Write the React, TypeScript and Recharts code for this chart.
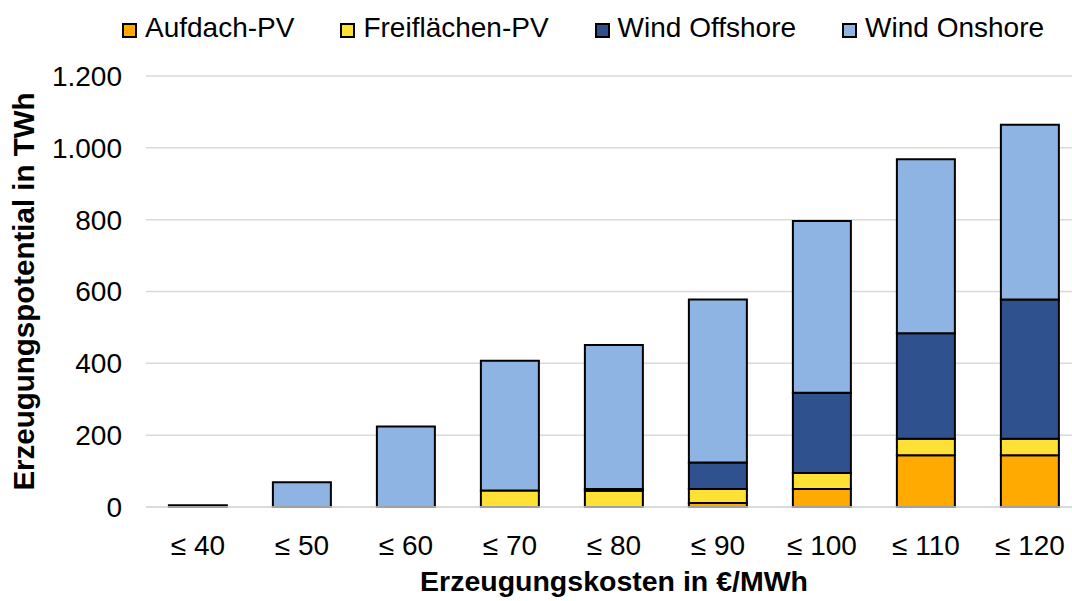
import { BarChart, Bar, XAxis, YAxis, CartesianGrid, Legend, Label } from 'recharts';

// Erzeugungskosten-Klassen (x-Achse)
const CATEGORIES = ['≤ 40', '≤ 50', '≤ 60', '≤ 70', '≤ 80', '≤ 90', '≤ 100', '≤ 110', '≤ 120'];

// Erzeugungspotential in TWh je Technologie
const AUFDACH_PV = [0, 0, 0, 0, 0, 11, 50, 144, 144];
const FREIFLAECHEN_PV = [0, 0, 0, 46, 45, 39, 45, 46, 46];
const WIND_OFFSHORE = [0, 0, 0, 0, 5, 74, 223, 294, 388];
const WIND_ONSHORE = [5, 69, 224, 361, 401, 454, 478, 484, 486];

const Y_TICKS = [0, 200, 400, 600, 800, 1000, 1200];

const SERIES_KEYS = ['aufdach', 'frei', 'offshore', 'onshore'];
const SERIES_NAMES = ['Aufdach-PV', 'Freiflächen-PV', 'Wind Offshore', 'Wind Onshore'];
const COLORS = ['#FFAA00', '#FFE135', '#2F528F', '#8EB4E3'];

const FONT = '"Liberation Sans", Arial, sans-serif';

const chartData = CATEGORIES.map((category, i) => ({
  category,
  aufdach: AUFDACH_PV[i],
  frei: FREIFLAECHEN_PV[i],
  offshore: WIND_OFFSHORE[i],
  onshore: WIND_ONSHORE[i],
}));

const formatThousands = (v: number) => String(v).replace(/\B(?=(\d{3})+(?!\d))/g, '.');

function LegendRow() {
  return (
    <div
      style={{
        display: 'flex',
        alignItems: 'center',
        paddingLeft: 122,
        fontFamily: FONT,
        fontSize: 28,
        lineHeight: '32px',
        color: '#000',
      }}
    >
      {SERIES_NAMES.map((name, i) => (
        <div
          key={name}
          style={{ display: 'flex', alignItems: 'center', marginRight: i < SERIES_NAMES.length - 1 ? 46 : 0 }}
        >
          <span
            style={{
              display: 'inline-block',
              width: 15,
              height: 15,
              boxSizing: 'border-box',
              border: '2px solid #000',
              background: COLORS[i],
              marginRight: 8,
              position: 'relative',
              top: 2,
            }}
          />
          <span>{name}</span>
        </div>
      ))}
    </div>
  );
}

export default function App() {
  return (
    <div
      style={{
        position: 'absolute',
        left: 0,
        top: 0,
        width: 1072,
        height: 601,
        overflow: 'hidden',
        background: '#fff',
      }}
    >
      <BarChart
        width={1090}
        height={601}
        data={chartData}
        margin={{ top: 76, right: 8, bottom: 0, left: 0 }}
        barCategoryGap="22%"
        style={{ fontFamily: FONT }}
      >
        <CartesianGrid vertical={false} stroke="#d9d9d9" strokeWidth={1.5} />
        <XAxis
          dataKey="category"
          height={94}
          tickLine={false}
          tickSize={0}
          tickMargin={28}
          axisLine={{ stroke: '#d9d9d9', strokeWidth: 1.5 }}
          tick={{ fill: '#000', fontSize: 28 }}
          interval={0}
        >
          <Label
            value="Erzeugungskosten in €/MWh"
            position="insideBottom"
            offset={10}
            style={{ fill: '#000', fontSize: 28.5, fontWeight: 'bold' }}
          />
        </XAxis>
        <YAxis
          width={146}
          domain={[0, 1200]}
          ticks={Y_TICKS}
          tickFormatter={formatThousands}
          axisLine={false}
          tickLine={false}
          tickSize={0}
          tickMargin={24}
          tick={{ fill: '#000', fontSize: 28 }}
        >
          <Label
            content={(props: any) => {
              const vb = props.viewBox || { x: 0, y: 76, width: 146, height: 431 };
              const cx = vb.x + 34;
              const cy = vb.y + vb.height / 2;
              return (
                <text
                  x={cx}
                  y={cy}
                  transform={`rotate(-90, ${cx}, ${cy})`}
                  textAnchor="middle"
                  fill="#000"
                  fontSize={29.5}
                  fontWeight="bold"
                  fontFamily={FONT}
                >
                  Erzeugungspotential in TWh
                </text>
              );
            }}
          />
        </YAxis>
        <Legend
          verticalAlign="middle"
          align="center"
          layout="horizontal"
          wrapperStyle={{ top: 12, left: 0, width: 1090 }}
          content={() => <LegendRow />}
        />
        {SERIES_KEYS.map((key, i) => (
          <Bar
            key={key}
            dataKey={key}
            name={SERIES_NAMES[i]}
            stackId="a"
            fill={COLORS[i]}
            stroke="#000"
            strokeWidth={2}
            isAnimationActive={false}
          />
        ))}
      </BarChart>
    </div>
  );
}
